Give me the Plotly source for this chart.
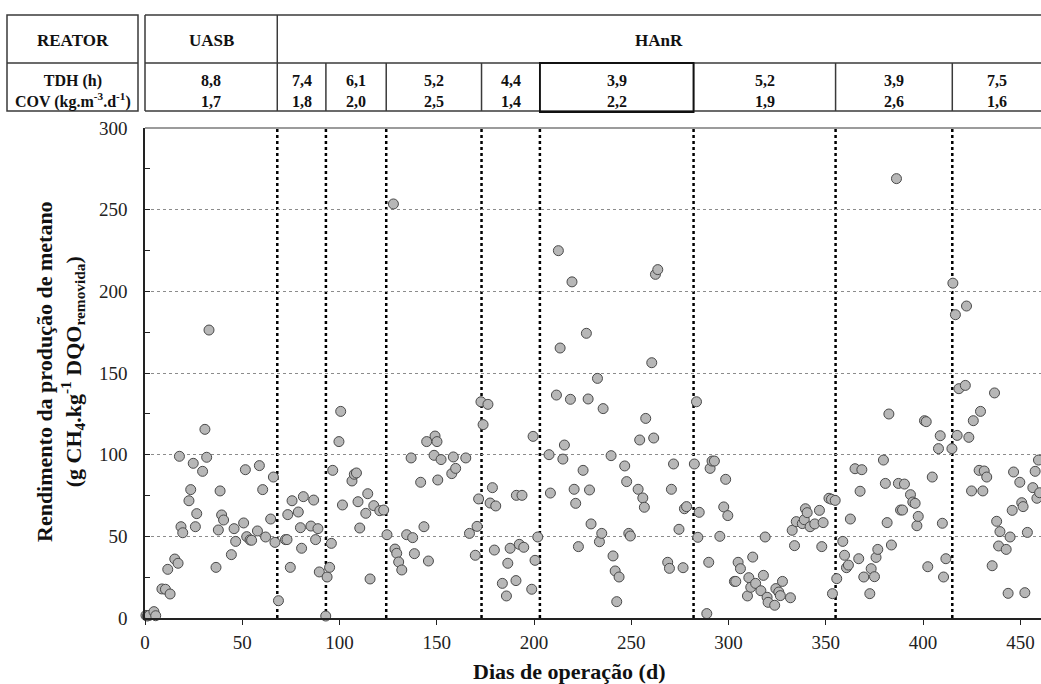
import plotly.graph_objects as go

# ---------------- data ----------------
dias = [
    0.5, 1.2, 2.2, 4.6, 5.5,
    8.7, 10.5, 11.7, 12.9, 15.3, 17.0, 17.7, 18.5, 19.4, 22.6, 23.5, 24.8, 25.9, 26.6,
    29.6, 30.8, 31.7, 32.9, 36.5, 37.7, 38.6, 39.4, 40.4, 44.4, 45.8, 46.6, 50.7, 51.6,
    52.3, 54.0, 54.8, 57.8, 58.8, 60.5, 62.0, 64.6, 66.0, 66.8, 68.6,
    72.2, 73.0, 73.4, 74.7, 75.6, 78.8, 79.9, 80.5, 81.4, 85.3, 86.7, 87.7, 88.9, 89.6, 92.9,
    93.6, 94.9, 95.8, 96.5, 99.7, 100.6, 101.5, 106.4, 107.6, 108.7, 109.5, 110.4, 113.5,
    114.5, 115.7, 117.6, 120.7, 122.7,
    124.4, 127.7, 128.5, 129.4, 130.4, 132.0, 134.5, 136.8, 137.6, 138.5, 141.7, 143.4,
    144.8, 145.7, 148.6, 149.1, 150.1, 150.5, 152.2, 157.7, 158.5, 159.7, 164.9, 166.8,
    169.8, 170.7, 171.5, 172.7,
    173.8, 176.3, 177.4, 178.6, 179.6, 180.3, 183.7, 185.8, 186.5, 187.7, 190.7, 190.9,
    192.4, 193.8, 194.7, 198.8, 199.5, 200.5, 201.9,
    207.7, 208.4, 211.5, 212.5, 213.4, 214.8, 215.6, 218.7, 219.5, 220.6, 221.4, 222.8,
    225.2, 226.9, 227.8, 228.5, 229.3, 232.6, 233.6, 234.8, 235.5, 239.6, 240.6, 241.7,
    242.5, 243.7, 246.6, 247.6, 248.7, 249.5, 253.5, 254.3, 255.9, 256.7, 257.4, 260.5,
    261.5, 262.4, 263.6, 268.7, 269.6, 270.6, 271.7, 274.5, 276.6, 277.3, 278.4, 282.4,
    283.5, 284.2, 284.9, 288.8, 289.8, 290.5, 291.5, 292.7, 295.5, 297.5, 298.5, 299.6,
    303.0, 303.7, 304.9, 306.1, 309.7, 310.4, 311.4, 312.4, 313.9, 316.6, 317.9, 318.8,
    319.8, 320.3, 323.7, 324.3, 325.8, 326.6, 327.7, 331.8, 332.7, 333.9, 334.8, 337.9,
    338.9, 339.5, 340.4, 341.9, 344.3, 346.7, 347.9, 348.6, 351.6, 352.9, 353.4, 354.8,
    355.6, 358.7, 359.6, 360.6, 361.6, 362.6, 365.0, 366.9, 367.6, 368.5, 369.5, 372.6,
    373.3, 375.0, 375.8, 376.7, 379.6, 380.6, 381.5, 382.4, 383.7, 386.3, 387.3, 388.4,
    389.4, 390.4, 393.5, 394.7, 395.9, 396.8, 397.5, 400.7, 401.6, 402.4, 404.7, 407.9,
    408.8, 409.9, 410.5, 411.7, 414.8,
    415.3, 416.6, 417.5, 418.4, 421.7, 422.3, 423.5, 424.9, 425.8, 428.8, 429.5, 430.7,
    431.4, 432.7, 435.5, 436.7, 437.8, 438.8, 439.5, 442.7, 443.7, 444.7, 445.8, 446.5,
    449.7, 450.7, 451.4, 452.3, 453.6, 456.4, 457.6, 458.5, 459.3, 459.9,
]
rendimento = [
    1.6, 1.2, 1.6, 3.9, 1.4,
    17.8, 17.6, 29.8, 14.7, 36.1, 33.5, 99.0, 55.9, 52.2, 71.8, 78.6, 94.7, 55.9, 63.9,
    89.8, 115.5, 98.4, 176.3, 31.0, 53.9, 77.8, 63.1, 60.0, 38.8, 54.7, 46.9, 58.2, 90.8,
    49.8, 47.8, 47.6, 53.3, 93.3, 78.6, 49.6, 60.6, 86.3, 46.3, 10.6,
    48.0, 48.0, 63.3, 31.0, 71.8, 64.9, 55.3, 42.7, 74.3, 56.3, 72.2, 48.0, 54.7, 28.2, 1.2,
    25.1, 31.0, 45.7, 90.4, 108.0, 126.5, 69.2, 83.9, 88.0, 88.8, 71.2, 55.1, 64.1,
    76.1, 23.9, 68.8, 65.7, 66.1,
    51.0, 253.5, 42.2, 39.6, 34.3, 29.4, 51.0, 98.0, 49.2, 39.4, 83.1, 55.9,
    108.0, 34.9, 99.6, 111.4, 108.0, 84.5, 97.0, 88.4, 98.6, 91.6, 98.0, 51.8,
    38.4, 56.1, 72.9, 132.4,
    118.4, 130.8, 70.4, 79.8, 41.6, 68.6, 21.2, 13.5, 33.5, 42.7, 22.9, 75.1,
    45.1, 75.1, 43.3, 17.6, 111.2, 35.3, 49.6,
    100.0, 76.5, 136.5, 224.9, 165.3, 97.3, 105.9, 133.9, 205.8, 78.8, 70.2, 43.7,
    90.4, 174.3, 134.1, 78.4, 57.6, 146.7, 46.7, 51.8, 128.2, 99.4, 38.0, 28.8,
    10.0, 25.1, 93.1, 83.5, 51.8, 50.2, 78.8, 109.0, 73.5, 67.8, 122.2, 156.3,
    110.2, 210.4, 213.3, 34.1, 30.4, 78.8, 94.3, 54.3, 30.8, 66.9, 68.2, 94.3,
    132.4, 49.4, 64.7, 2.7, 34.1, 91.6, 96.1, 96.1, 50.0, 68.0, 84.9, 62.7,
    22.4, 22.4, 34.1, 30.2, 13.5, 24.7, 18.8, 37.3, 21.2, 16.7, 26.1, 49.6,
    12.7, 9.6, 7.8, 18.0, 15.9, 13.7, 22.4, 12.4, 53.7, 44.3, 59.0, 57.8,
    60.2, 66.9, 64.5, 55.9, 57.6, 65.9, 43.7, 58.4, 73.3, 72.7, 14.9, 72.0,
    24.1, 46.9, 38.4, 30.8, 32.4, 60.6, 91.4, 36.3, 77.6, 90.8, 25.1, 14.9,
    30.2, 25.3, 37.1, 42.0, 96.7, 82.4, 58.4, 124.9, 44.7, 269.0, 82.4, 66.1,
    66.1, 82.0, 75.5, 71.0, 70.2, 56.5, 62.2, 120.8, 120.2, 31.4, 86.3, 103.7,
    111.6, 58.0, 25.1, 36.3, 103.7,
    205.0, 185.7, 111.8, 140.4, 142.4, 191.0, 110.6, 77.8, 120.8, 90.4, 126.5, 77.8,
    90.0, 86.3, 32.0, 137.8, 59.2, 44.1, 52.9, 42.0, 15.1, 49.6, 65.9, 89.4,
    83.1, 70.6, 68.2, 15.5, 52.4, 79.8, 89.8, 73.3, 96.7, 76.7,
]

limites_fase = [68, 93, 124, 173, 203, 282, 355, 415]   # days where TDH changes
tdh = ["8,8", "7,4", "6,1", "5,2", "4,4", "3,9", "5,2", "3,9", "7,5"]
cov = ["1,7", "1,8", "2,0", "2,5", "1,4", "2,2", "1,9", "2,6", "1,6"]
reatores = ["UASB", "HAnR"]
x_ticks = [0, 50, 100, 150, 200, 250, 300, 350, 400, 450]
y_ticks = [0, 50, 100, 150, 200, 250, 300]
x_max = 460.6
y_max = 300

# ---------------- layout geometry ----------------
W, H = 1041, 684
ML, MR, MT, MB = 145, 0, 128, 66
plot_h = H - MT - MB


def py(pix):
    """pixel row -> paper y"""
    return (H - MB - pix) / plot_h


def px(pix):
    """pixel column -> paper x"""
    return (pix - ML) / (W - ML - MR)


SERIF = "Liberation Serif"
BORDER = "#3a3a3a"

fig = go.Figure()
fig.add_trace(go.Scatter(
    x=dias, y=rendimento, mode="markers",
    marker=dict(size=10, color="#b7b7b7", line=dict(color="#4a4a4a", width=1)),
    cliponaxis=False, showlegend=False,
))

shapes = []
# phase separators (dotted vertical lines)
for d in limites_fase:
    shapes.append(dict(type="line", xref="x", yref="paper", x0=d, x1=d, y0=0, y1=1,
                       line=dict(color="black", width=2.5, dash="dot"), layer="between"))
# top border of plot
shapes.append(dict(type="line", xref="paper", yref="paper", x0=0, x1=1, y0=1, y1=1,
                   line=dict(color="#7a7a7a", width=1.5)))

# ---------------- header table ----------------
y_top, y_mid, y_bot = py(15), py(63), py(111)
lw = dict(color=BORDER, width=1.5)
# left label box
shapes.append(dict(type="rect", xref="paper", yref="paper", x0=px(7), x1=px(138),
                   y0=y_bot, y1=y_top, line=lw))
shapes.append(dict(type="line", xref="paper", yref="paper", x0=px(7), x1=px(138),
                   y0=y_mid, y1=y_mid, line=lw))
# main box
for yy in (y_top, y_mid, y_bot):
    shapes.append(dict(type="line", xref="paper", yref="paper", x0=0, x1=1,
                       y0=yy, y1=yy, line=lw))
shapes.append(dict(type="line", xref="paper", yref="paper", x0=0, x1=0,
                   y0=y_bot, y1=y_top, line=lw))
shapes.append(dict(type="line", xref="x", yref="paper", x0=limites_fase[0], x1=limites_fase[0],
                   y0=y_bot, y1=y_top, line=lw))
for d in limites_fase[1:]:
    shapes.append(dict(type="line", xref="x", yref="paper", x0=d, x1=d,
                       y0=y_bot, y1=y_mid, line=lw))
# emphasised 3,9 cell
shapes.append(dict(type="rect", xref="x", yref="paper", x0=limites_fase[4], x1=limites_fase[5],
                   y0=py(112), y1=y_mid, line=dict(color="#111", width=1.8)))

annotations = []
hdr_font = dict(family=SERIF, size=16, color="#111")


def ann(text, x, y, xref="paper", font=hdr_font, **kw):
    annotations.append(dict(text=text, xref=xref, yref="paper", x=x, y=y, showarrow=False,
                            xanchor="center", yanchor="middle", font=font, **kw))


ann("<b>REATOR</b>", (px(7) + px(138)) / 2, py(40), font=dict(family=SERIF, size=17, color="#111"))
ann("<b>TDH (h)<br>COV (kg.m<sup>-3</sup>.d<sup>-1</sup>)</b>", (px(7) + px(138)) / 2, py(91))
ann("<b>%s</b>" % reatores[0], limites_fase[0] / 2, py(40), xref="x",
    font=dict(family=SERIF, size=17, color="#111"))
ann("<b>%s</b>" % reatores[1], (limites_fase[0] + x_max) / 2, py(40), xref="x",
    font=dict(family=SERIF, size=17, color="#111"))
edges = [0] + limites_fase + [x_max]
for i in range(len(tdh)):
    ann("<b>%s<br>%s</b>" % (tdh[i], cov[i]), (edges[i] + edges[i + 1]) / 2, py(91), xref="x")

# axis titles
ann("<b>Dias de operação (d)</b>", px(569), py(671),
    font=dict(family=SERIF, size=22, color="#111"))
ann("<b>Rendimento da produção de metano<br>(g CH<sub>4</sub>.kg<sup>-1</sup> DQO<sub>removida</sub>)</b>",
    px(60), py(372), textangle=-90, font=dict(family=SERIF, size=22, color="#111"))

fig.update_layout(
    width=W, height=H, autosize=False,
    margin=dict(l=ML, r=MR, t=MT, b=MB, pad=0),
    paper_bgcolor="white", plot_bgcolor="white",
    font=dict(family=SERIF, color="#222"),
    shapes=shapes, annotations=annotations,
    xaxis=dict(range=[0, x_max], tickvals=x_ticks, ticks="outside", ticklen=5,
               tickcolor="#222", tickwidth=1.2, showline=True, linecolor="#222", linewidth=1.5,
               showgrid=False, zeroline=False, tickfont=dict(size=19, family=SERIF, color="#222"),
               ticklabelstandoff=1),
    yaxis=dict(range=[0, y_max], tickvals=y_ticks, ticks="inside", ticklen=5,
               tickcolor="#222", tickwidth=1.2, showline=True, linecolor="#222", linewidth=1.5,
               showgrid=True, gridcolor="#8c8c8c", griddash="dot", gridwidth=1,
               zeroline=False, tickfont=dict(size=19, family=SERIF, color="#222"),
               ticklabelstandoff=12,
               minor=dict(dtick=25, ticks="inside", ticklen=5, tickcolor="#222", showgrid=False)),
)

fig.write_html("out.html")
